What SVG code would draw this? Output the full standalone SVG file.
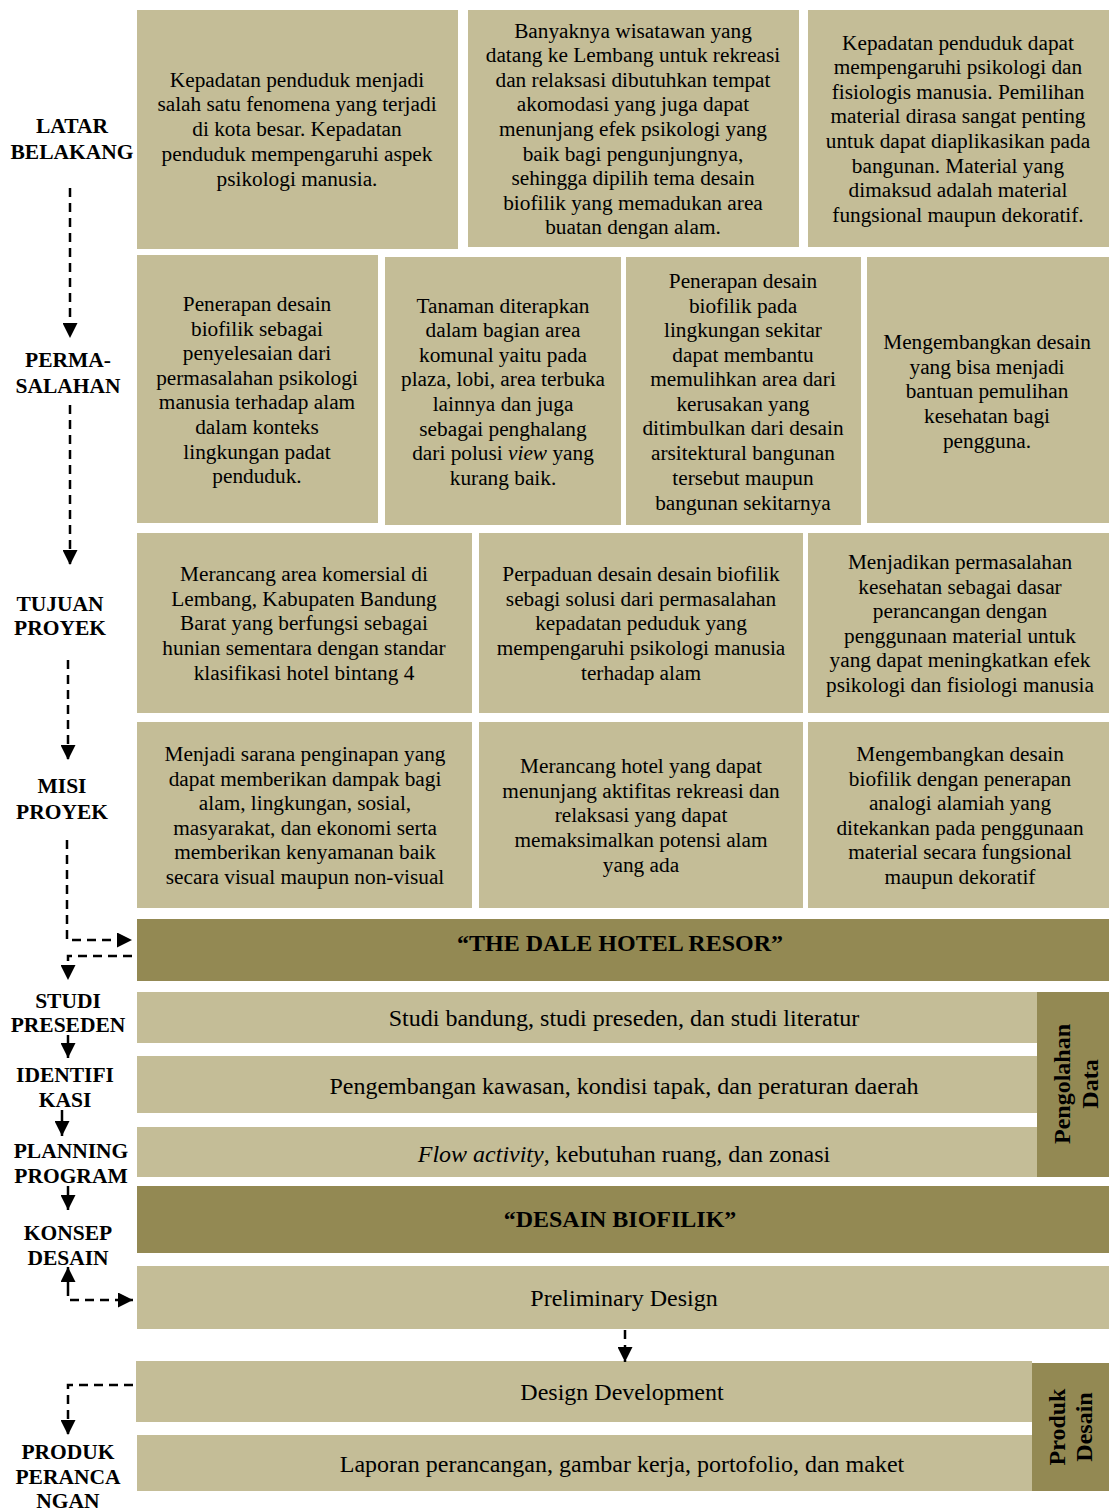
<svg xmlns="http://www.w3.org/2000/svg" width="1109" height="1511" viewBox="0 0 1109 1511">
<style>
.l{fill:#C4BD97}
.d{fill:#938953}
text{font-family:"Liberation Serif","Times New Roman",serif;fill:#000}
.t{font-size:21.3px;text-anchor:middle}
.r{font-size:24px;text-anchor:middle}
.b{font-size:21.5px;font-weight:bold;text-anchor:middle}
.h{font-size:24px;font-weight:bold;text-anchor:middle}
.v{font-size:24px;font-weight:bold;text-anchor:middle}
.dash{fill:none;stroke:#000;stroke-width:2.5;stroke-dasharray:9,6}
.sol{fill:none;stroke:#000;stroke-width:2.5}
</style>
<defs>
<marker id="ah" viewBox="0 0 10 10" refX="10" refY="5" markerWidth="15" markerHeight="15" markerUnits="userSpaceOnUse" orient="auto">
<path d="M0,0 L10,5 L0,10 z" fill="#000"/>
</marker>
</defs>
<rect width="1109" height="1511" fill="#fff"/>

<g id="latar-a"><rect class="l" x="137" y="10" width="321" height="239"/>
<text class="t"><tspan x="297" y="87">Kepadatan penduduk menjadi</tspan><tspan x="297" y="111">salah satu fenomena yang terjadi</tspan><tspan x="297" y="136">di kota besar. Kepadatan</tspan><tspan x="297" y="161">penduduk mempengaruhi aspek</tspan><tspan x="297" y="186">psikologi manusia.</tspan></text></g>
<g id="latar-b"><rect class="l" x="468" y="10" width="331" height="237"/>
<text class="t"><tspan x="633" y="38">Banyaknya wisatawan yang</tspan><tspan x="633" y="62">datang ke Lembang untuk rekreasi</tspan><tspan x="633" y="87">dan relaksasi dibutuhkan tempat</tspan><tspan x="633" y="111">akomodasi yang juga dapat</tspan><tspan x="633" y="136">menunjang efek psikologi yang</tspan><tspan x="633" y="161">baik bagi pengunjungnya,</tspan><tspan x="633" y="185">sehingga dipilih tema desain</tspan><tspan x="633" y="210">biofilik yang memadukan area</tspan><tspan x="633" y="234">buatan dengan alam.</tspan></text></g>
<g id="latar-c"><rect class="l" x="808" y="10" width="301" height="237"/>
<text class="t"><tspan x="958" y="50">Kepadatan penduduk dapat</tspan><tspan x="958" y="74">mempengaruhi psikologi dan</tspan><tspan x="958" y="99">fisiologis manusia. Pemilihan</tspan><tspan x="958" y="123">material dirasa sangat penting</tspan><tspan x="958" y="148">untuk dapat diaplikasikan pada</tspan><tspan x="958" y="173">bangunan. Material yang</tspan><tspan x="958" y="197">dimaksud adalah material</tspan><tspan x="958" y="222">fungsional maupun dekoratif.</tspan></text></g>

<g id="masalah-1"><rect class="l" x="137" y="255" width="241" height="268"/>
<text class="t"><tspan x="257" y="311">Penerapan desain</tspan><tspan x="257" y="336">biofilik sebagai</tspan><tspan x="257" y="360">penyelesaian dari</tspan><tspan x="257" y="385">permasalahan psikologi</tspan><tspan x="257" y="409">manusia terhadap alam</tspan><tspan x="257" y="434">dalam konteks</tspan><tspan x="257" y="459">lingkungan padat</tspan><tspan x="257" y="483">penduduk.</tspan></text></g>
<g id="masalah-2"><rect class="l" x="385" y="257" width="236" height="268"/>
<text class="t"><tspan x="503" y="313">Tanaman diterapkan</tspan><tspan x="503" y="337">dalam bagian area</tspan><tspan x="503" y="362">komunal yaitu pada</tspan><tspan x="503" y="386">plaza, lobi, area terbuka</tspan><tspan x="503" y="411">lainnya dan juga</tspan><tspan x="503" y="436">sebagai penghalang</tspan><tspan x="503" y="460">dari polusi <tspan font-style="italic">view</tspan> yang</tspan><tspan x="503" y="485">kurang baik.</tspan></text></g>
<g id="masalah-3"><rect class="l" x="626" y="257" width="235" height="268"/>
<text class="t"><tspan x="743" y="288">Penerapan desain</tspan><tspan x="743" y="313">biofilik pada</tspan><tspan x="743" y="337">lingkungan sekitar</tspan><tspan x="743" y="362">dapat membantu</tspan><tspan x="743" y="386">memulihkan area dari</tspan><tspan x="743" y="411">kerusakan yang</tspan><tspan x="743" y="435">ditimbulkan dari desain</tspan><tspan x="743" y="460">arsitektural bangunan</tspan><tspan x="743" y="485">tersebut maupun</tspan><tspan x="743" y="510">bangunan sekitarnya</tspan></text></g>
<g id="masalah-4"><rect class="l" x="867" y="257" width="242" height="266"/>
<text class="t"><tspan x="987" y="349">Mengembangkan desain</tspan><tspan x="987" y="374">yang bisa menjadi</tspan><tspan x="987" y="398">bantuan pemulihan</tspan><tspan x="987" y="423">kesehatan bagi</tspan><tspan x="987" y="448">pengguna.</tspan></text></g>

<g id="tujuan-1"><rect class="l" x="137" y="533" width="335" height="180"/>
<text class="t"><tspan x="304" y="581">Merancang area komersial di</tspan><tspan x="304" y="606">Lembang, Kabupaten Bandung</tspan><tspan x="304" y="630">Barat yang berfungsi sebagai</tspan><tspan x="304" y="655">hunian sementara dengan standar</tspan><tspan x="304" y="680">klasifikasi hotel bintang 4</tspan></text></g>
<g id="tujuan-2"><rect class="l" x="479" y="533" width="324" height="180"/>
<text class="t"><tspan x="641" y="581">Perpaduan desain desain biofilik</tspan><tspan x="641" y="606">sebagi solusi dari permasalahan</tspan><tspan x="641" y="630">kepadatan peduduk yang</tspan><tspan x="641" y="655">mempengaruhi psikologi manusia</tspan><tspan x="641" y="680">terhadap alam</tspan></text></g>
<g id="tujuan-3"><rect class="l" x="808" y="533" width="301" height="180"/>
<text class="t"><tspan x="960" y="569">Menjadikan permasalahan</tspan><tspan x="960" y="594">kesehatan sebagai dasar</tspan><tspan x="960" y="618">perancangan dengan</tspan><tspan x="960" y="643">penggunaan material untuk</tspan><tspan x="960" y="667">yang dapat meningkatkan efek</tspan><tspan x="960" y="692">psikologi dan fisiologi manusia</tspan></text></g>

<g id="misi-1"><rect class="l" x="137" y="722" width="335" height="186"/>
<text class="t"><tspan x="305" y="761">Menjadi sarana penginapan yang</tspan><tspan x="305" y="786">dapat memberikan dampak bagi</tspan><tspan x="305" y="810">alam, lingkungan, sosial,</tspan><tspan x="305" y="835">masyarakat, dan ekonomi serta</tspan><tspan x="305" y="859">memberikan kenyamanan baik</tspan><tspan x="305" y="884">secara visual maupun non-visual</tspan></text></g>
<g id="misi-2"><rect class="l" x="479" y="722" width="324" height="186"/>
<text class="t"><tspan x="641" y="773">Merancang hotel yang dapat</tspan><tspan x="641" y="798">menunjang aktifitas rekreasi dan</tspan><tspan x="641" y="822">relaksasi  yang dapat</tspan><tspan x="641" y="847">memaksimalkan potensi alam</tspan><tspan x="641" y="872">yang ada</tspan></text></g>
<g id="misi-3"><rect class="l" x="808" y="722" width="301" height="186"/>
<text class="t"><tspan x="960" y="761">Mengembangkan desain</tspan><tspan x="960" y="786">biofilik dengan penerapan</tspan><tspan x="960" y="810">analogi alamiah yang</tspan><tspan x="960" y="835">ditekankan pada penggunaan</tspan><tspan x="960" y="859">material secara fungsional</tspan><tspan x="960" y="884">maupun dekoratif</tspan></text></g>

<g id="dale"><rect class="d" x="137" y="919" width="972" height="62"/>
<text class="h" x="620" y="951">“THE DALE HOTEL RESOR”</text></g>
<g id="studi-bar"><rect class="l" x="137" y="992" width="900" height="51"/>
<text class="r" x="624" y="1026">Studi bandung, studi preseden, dan studi literatur</text></g>
<g id="identifikasi-bar"><rect class="l" x="137" y="1056" width="900" height="57"/>
<text class="r" x="624" y="1094">Pengembangan kawasan, kondisi tapak, dan peraturan daerah</text></g>
<g id="planning-bar"><rect class="l" x="137" y="1127" width="900" height="50"/>
<text class="r" x="624" y="1162"><tspan font-style="italic">Flow activity</tspan>, kebutuhan ruang, dan zonasi</text></g>
<g id="pengolahan"><rect class="d" x="1037" y="992" width="72" height="185"/>
<text class="v" transform="translate(1070,1084) rotate(-90)"><tspan x="0" y="0">Pengolahan</tspan><tspan x="0" y="28">Data</tspan></text></g>
<g id="biofilik"><rect class="d" x="137" y="1186" width="972" height="67"/>
<text class="h" x="620" y="1227">“DESAIN BIOFILIK”</text></g>
<g id="preliminary"><rect class="l" x="137" y="1266" width="972" height="63"/>
<text class="r" x="624" y="1306">Preliminary Design</text></g>
<g id="design-dev"><rect class="l" x="136" y="1361" width="896" height="61"/>
<text class="r" x="622" y="1400">Design Development</text></g>
<g id="laporan"><rect class="l" x="137" y="1435" width="895" height="56"/>
<text class="r" x="622" y="1472">Laporan perancangan, gambar kerja, portofolio, dan maket</text></g>
<g id="produk-desain"><rect class="d" x="1032" y="1363" width="77" height="128"/>
<text class="v" transform="translate(1065,1427) rotate(-90)"><tspan x="0" y="0">Produk</tspan><tspan x="0" y="27">Desain</tspan></text></g>

<g id="labels">
<text class="b"><tspan x="72" y="133">LATAR</tspan><tspan x="72" y="159">BELAKANG</tspan></text>
<text class="b"><tspan x="68" y="367">PERMA-</tspan><tspan x="68" y="393">SALAHAN</tspan></text>
<text class="b"><tspan x="60" y="611">TUJUAN</tspan><tspan x="60" y="635">PROYEK</tspan></text>
<text class="b"><tspan x="62" y="793">MISI</tspan><tspan x="62" y="819">PROYEK</tspan></text>
<text class="b"><tspan x="68" y="1008">STUDI</tspan><tspan x="68" y="1032">PRESEDEN</tspan></text>
<text class="b"><tspan x="65" y="1082">IDENTIFI</tspan><tspan x="65" y="1107">KASI</tspan></text>
<text class="b"><tspan x="71" y="1158">PLANNING</tspan><tspan x="71" y="1183">PROGRAM</tspan></text>
<text class="b"><tspan x="68" y="1240">KONSEP</tspan><tspan x="68" y="1265">DESAIN</tspan></text>
<text class="b"><tspan x="68" y="1459">PRODUK</tspan><tspan x="68" y="1484">PERANCA</tspan><tspan x="68" y="1508">NGAN</tspan></text>
</g>

<g id="connectors">
<path class="dash" d="M70,188 V338" marker-end="url(#ah)"/>
<path class="dash" d="M70,405 V565" marker-end="url(#ah)"/>
<path class="dash" d="M68,660 V760" marker-end="url(#ah)"/>
<path class="dash" d="M67,840 V940 H132" marker-end="url(#ah)"/>
<path class="dash" d="M132,956 H68 V980" marker-end="url(#ah)"/>
<path class="sol" d="M68,1035 V1058" marker-end="url(#ah)"/>
<path class="sol" d="M62,1110 V1136" marker-end="url(#ah)"/>
<path class="sol" d="M68,1186 V1210" marker-end="url(#ah)"/>
<path class="sol" d="M68,1287 V1267" marker-end="url(#ah)"/>
<path class="dash" d="M68,1287 V1300 H133" marker-end="url(#ah)"/>
<path class="dash" d="M625,1330 V1362" marker-end="url(#ah)"/>
<path class="dash" d="M133,1385 H68 V1435" marker-end="url(#ah)"/>
</g>
</svg>
